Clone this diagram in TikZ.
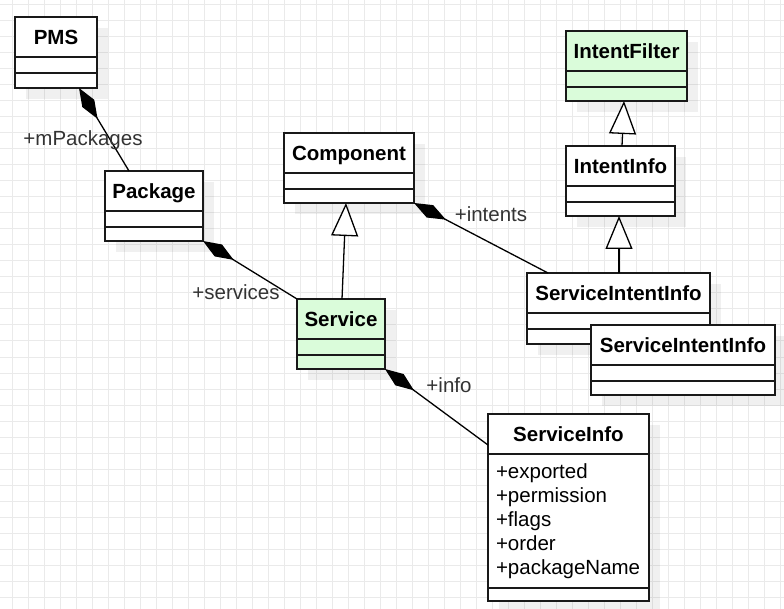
\documentclass[tikz,border=0pt]{standalone}
\usepackage{fontspec}
\setmainfont{Liberation Sans}
\usepackage{xcolor}
\usepackage{tikz}
\usetikzlibrary{arrows.meta, positioning, shapes, shadows}

\definecolor{gridgray}{RGB}{234,234,234}
\definecolor{classgreen}{RGB}{218,252,218}
\definecolor{textgray}{RGB}{51,51,51}
\definecolor{linegray}{RGB}{25,25,25}

\begin{document}
\begin{tikzpicture}[x=1pt, y=-1pt,
  boxshadow/.style={drop shadow={shadow xshift=11pt, shadow yshift=-11pt, fill=black, opacity=.06}},
  classtitle/.style={draw=linegray, line width=1.8pt, rectangle, fill=white, minimum width=#1, minimum height=40pt,
                     inner sep=0pt, outer sep=0pt, text height=15pt, text depth=0pt,
                     font=\fontsize{20.5}{24}\selectfont\bfseries, boxshadow},
  classpart/.style={draw=linegray, line width=1.8pt, rectangle, fill=white, minimum width=#1, minimum height=16pt,
                    inner sep=0pt, outer sep=0pt, boxshadow},
  gridline/.style={draw=gridgray, line width=1pt},
  comp/.style={draw, line width=1.3pt, {Diamond[length=36pt, width=14pt]}-},
  inherit/.style={draw, line width=1.3pt, -{Triangle[length=33pt, width=27pt, fill=white]}},
  rolelabel/.style={text=textgray, inner sep=0pt, font=\fontsize{20.5}{24}\selectfont}
]

\useasboundingbox [fill=white] (0,0) rectangle (784,609);

% grid
\foreach \gx in {12,28,...,780} \draw [gridline] (\gx,0) -- (\gx,609);
\foreach \gy in {5,21,...,605} \draw [gridline] (0,\gy) -- (784,\gy);

% classes
\node [classtitle=82pt, anchor=north west] (pms) at (15,17) {PMS};
\node [classpart=82pt, below=0pt of pms ] (pms1) {};
\node [classpart=82pt, minimum height=15pt, below=0pt of pms1] (pms2) {};

\node [classtitle=98pt, anchor=north west] (pkg) at (105,171) {Package};
\node [classpart=98pt, below=0pt of pkg ] (pkg1) {};
\node [classpart=98pt, minimum height=14pt, below=0pt of pkg1] (pkg2) {};

\node [classtitle=130pt, anchor=north west] (comp) at (284,133) {Component};
\node [classpart=130pt, below=0pt of comp ] (comp1) {};
\node [classpart=130pt, minimum height=14pt, below=0pt of comp1] (comp2) {};

\node [classtitle=121pt, fill=classgreen, anchor=north west] (if) at (566,31) {IntentFilter};
\node [classpart=121pt, fill=classgreen, below=0pt of if ] (if1) {};
\node [classpart=121pt, fill=classgreen, minimum height=14pt, below=0pt of if1] (if2) {};

\node [classtitle=109pt, anchor=north west] (ii) at (566,146) {IntentInfo};
\node [classpart=109pt, below=0pt of ii ] (ii1) {};
\node [classpart=109pt, minimum height=14pt, below=0pt of ii1] (ii2) {};

\node [classtitle=183pt, anchor=north west] (sii) at (527,273) {ServiceIntentInfo};
\node [classpart=183pt, below=0pt of sii ] (sii1) {};
\node [classpart=183pt, minimum height=15pt, below=0pt of sii1] (sii2) {};

\node [classtitle=184pt, anchor=north west] (siib) at (591,325) {ServiceIntentInfo};
\node [classpart=184pt, below=0pt of siib ] (siib1) {};
\node [classpart=184pt, minimum height=14pt, below=0pt of siib1] (siib2) {};

\node [classtitle=88pt, fill=classgreen, anchor=north west] (svc) at (297,299) {Service};
\node [classpart=88pt, fill=classgreen, below=0pt of svc ] (svc1) {};
\node [classpart=88pt, fill=classgreen, minimum height=14pt, below=0pt of svc1] (svc2) {};

\node [classtitle=161pt, anchor=north west] (si) at (488,414) {ServiceInfo};
\node [classpart=161pt, minimum height=134pt, below=0pt of si, align=left, text width=145pt, inner xsep=8pt,
       font=\fontsize{20.5}{24}\selectfont] (si1) {+exported\\+permission\\+flags\\+order\\+packageName};
\node [classpart=161pt, minimum height=13pt, below=0pt of si1] (si2) {};

% connector ends
\coordinate (pmsA)  at ([xshift=64pt]pms2.south west);
\coordinate (pkgA)  at ([xshift=24pt]pkg.north west);
\coordinate (svcB)  at ([xshift=45pt]svc.north west);
\coordinate (compA) at ([xshift=62pt]comp2.south west);
\coordinate (siiA)  at ([xshift=21pt]sii.north west);
\coordinate (siiB)  at ([xshift=92pt]sii.north west);
\coordinate (iiA)   at ([xshift=56pt]ii.north west);
\coordinate (iiB)   at ([xshift=53pt]ii2.south west);
\coordinate (ifA)   at ([xshift=58pt]if2.south west);
\coordinate (siA)   at ([yshift=-31pt]si.north west);

% composition
\path [comp] (pmsA) -- (pkgA);
\path [comp] (pkg2.south east) -- (svc.north west);
\path [comp] (comp2.south east) -- (siiA);
\path [comp] (svc2.south east) -- (siA);

% generalisation
\path [inherit] (svcB) -- (compA);
\path [inherit] (iiA) -- (ifA);
\path [inherit] (siiB) -- (iiB);

% role names
\node [rolelabel] (mpackages) at (83,140) {+mPackages};
\node [rolelabel] (services)  at (236,292) {+services};
\node [rolelabel] (intents)   at (491,214) {+intents};
\node [rolelabel] (info)      at (449,385) {+info};

\end{tikzpicture}
\end{document}
